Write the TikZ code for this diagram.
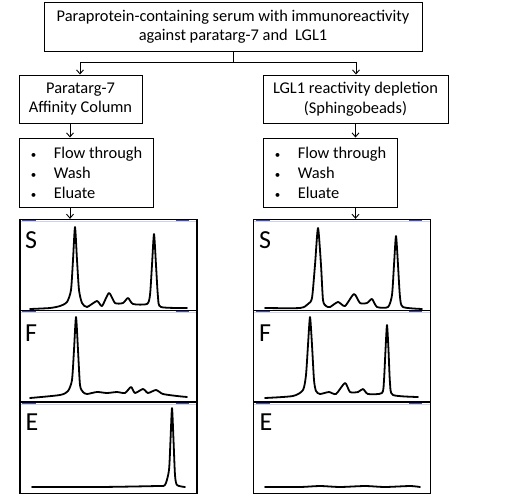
\documentclass[tikz,border=0pt]{standalone}
\usepackage{fontspec}
\setmainfont{Carlito}
\usetikzlibrary{arrows.meta}
\definecolor{plotblue}{RGB}{70,80,170}
\definecolor{plotlav}{RGB}{205,208,238}
\tikzset{
  box/.style={draw, line width=1pt, inner sep=0pt, align=center, font=\fontsize{16.4}{19.5}\selectfont},
  listbox/.style={draw, line width=1pt, inner sep=0pt, align=left, font=\fontsize{16.4}{20}\selectfont},
  arr/.style={line width=0.9pt, -{Straight Barb[length=4pt,width=7pt,line width=0.9pt]}},
  conn/.style={line width=0.9pt},
  panel/.style={draw, line width=1.3pt, inner sep=0pt, minimum width=177pt, minimum height=91pt},
  trace/.style={line width=1.8pt, line join=round, line cap=round},
  lbl/.style={font=\fontsize{26}{26}\selectfont, inner sep=0pt}
}
\newcommand{\bitem}[1]{\makebox[24pt][l]{\hspace{1pt}{\fontsize{11}{11}\selectfont\textbullet}}#1}
\begin{document}
\begin{tikzpicture}[x=1pt,y=-1pt]
\useasboundingbox (0,0) rectangle (520,496);
% top box
\node[box, minimum width=378pt, minimum height=49pt] (top) at (233,26.5)
  {Paraprotein-containing serum with immunoreactivity\\against paratarg-7 and\ \ LGL1};
\node[box, minimum width=123pt, minimum height=48pt] (b2l) at (80.5,99) {Paratarg-7\\Affinity Column};
\node[box, minimum width=185pt, minimum height=48pt] (b2r) at (355.5,99) {LGL1 reactivity depletion\\(Sphingobeads)};
\node[listbox, minimum width=134pt, minimum height=69pt] (b3l) at (86,172.5)
  {\bitem{Flow through}\\\bitem{Wash}\\\bitem{Eluate}};
\node[listbox, minimum width=134pt, minimum height=69pt] (b3r) at (330,172.5)
  {\bitem{Flow through}\\\bitem{Wash}\\\bitem{Eluate}};
% panels
\node[panel] (ls) at (108.5,265) {};
\node[panel] (lf) at (108.5,356) {};
\node[panel] (le) at (108.5,448) {};
\node[panel] (rs) at (342,265) {};
\node[panel] (rf) at (342,356) {};
\node[panel] (re) at (342,448) {};
% connectors
\coordinate (split) at (233,62);
\coordinate (xl) at (80,0);
\coordinate (xr) at (356,0);
\coordinate (al) at (70,0);
\coordinate (ar) at (355.5,0);
\draw[conn] (top.south) -- (split);
\draw[conn] (split -| xl) -- (split -| xr);
\draw[arr] (split -| xl) -- (b2l.north -| xl);
\draw[arr] (split -| xr) -- (b2r.north -| xr);
\draw[arr] (b2l.south -| al) -- (b3l.north -| al);
\draw[arr] (b2r.south -| ar) -- (b3r.north -| ar);
\draw[arr] (b3l.south -| al) -- (ls.north -| al);
\draw[arr] (b3r.south -| ar) -- (rs.north -| ar);
% plot header lines
\foreach \p in {ls,lf,le,rs,rf,re}{
  \draw[plotlav, line width=1.2pt] ([shift={(1.5,2.5)}]\p.north west) -- ([shift={(-1.5,2.5)}]\p.north east);
  \draw[plotblue, line width=0.8pt] ([shift={(3,2)}]\p.north west) -- ([shift={(17,2)}]\p.north west);
  \draw[plotblue, line width=0.8pt] ([shift={(-22,2)}]\p.north east) -- ([shift={(-9,2)}]\p.north east);
}
% labels
\node[lbl] (lsl) at (31,240.5) {S};
\node[lbl] (lfl) at (31,333.5) {F};
\node[lbl] (lel) at (32,422.5) {E};
\node[lbl] (rsl) at (265,240.5) {S};
\node[lbl] (rfl) at (265,333.5) {F};
\node[lbl] (rel) at (266,422.5) {E};
% traces
\draw[trace] plot[smooth, tension=0.4] coordinates {(30,309) (50,308) (60,306) (67,302) (71,290) (73,260) (75,227) (77,260) (79,290) (82,303) (87,307) (97,301) (102,306) (109,293) (115,303) (123,303) (128,298) (133,304) (147,304) (150,295) (152,265) (154,234) (156,265) (158,297) (161,307) (187,308)};
\draw[trace] plot[smooth, tension=0.4] coordinates {(30,398) (60,395) (68,391) (72,380) (74,350) (76,317) (78,350) (80,385) (83,392) (87,394) (97,392) (107,393) (117,392) (125,393) (131,387) (135,393) (143,389) (148,393) (156,390) (163,394) (177,396) (187,397)};
\draw[trace] plot[smooth, tension=0.4] coordinates {(32,487) (100,487) (157,486) (165,485) (169,470) (170.5,440) (172,408) (173.5,440) (175,475) (177,485) (185,487)};
\draw[trace] plot[smooth, tension=0.4] coordinates {(265,308) (300,308) (308,304) (312,298) (315,265) (318,228) (321,265) (323,300) (326,306) (330,307) (338,302) (345,306) (354,294) (360,303) (367,303) (372,299) (377,307) (388,307) (392,295) (394,265) (396,236) (398,265) (400,297) (403,307) (422,309)};
\draw[trace] plot[smooth, tension=0.4] coordinates {(265,398) (293,396) (303,390) (306,375) (308,345) (310,317) (312,345) (314,380) (316,391) (320,394) (329,392) (336,394) (345,383) (350,392) (358,392) (363,389) (368,394) (382,393) (384,380) (385.5,350) (387,325) (388.5,350) (390,383) (393,395) (418,397)};
\draw[trace] plot[smooth, tension=0.4] coordinates {(265,487) (300,487) (320,486) (340,487) (365,486) (385,487) (410,486) (420,487)};
\end{tikzpicture}
\end{document}
